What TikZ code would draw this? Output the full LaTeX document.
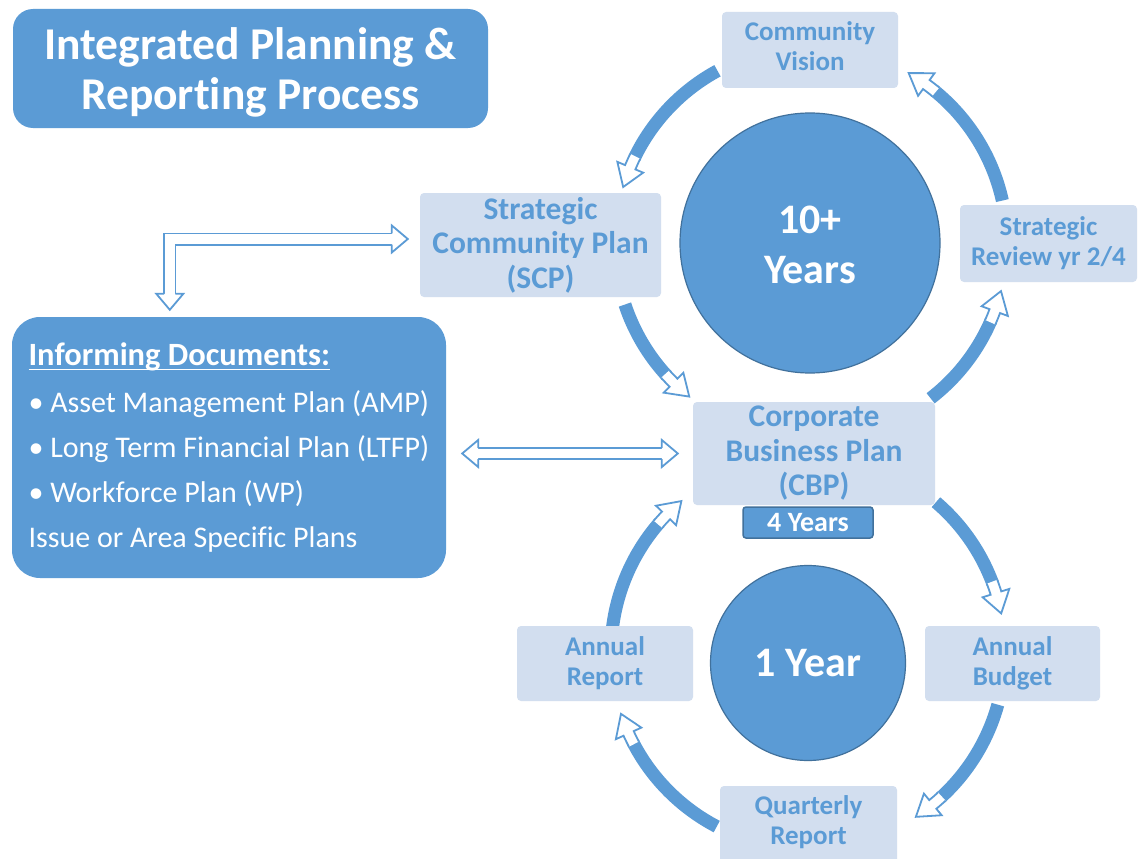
\documentclass[tikz,border=0pt]{standalone}
\usepackage{fontspec}
\setmainfont{Carlito}[Ligatures=NoCommon]
\usetikzlibrary{calc}
\definecolor{accent}{HTML}{5B9BD5}
\definecolor{accentdark}{HTML}{41719C}
\definecolor{paleblue}{HTML}{D2DEEF}

% underline sitting close to the baseline
\newcommand{\ulbase}[1]{\leavevmode\setbox0=\hbox{#1}\rlap{\rule[-5pt]{\wd0}{1.8pt}}\box0}

% thick curved arrow around a centre: #1 centre, #2 radius, #3 start angle, #4 tip angle
\newcommand{\loopcurve}[4]{%
  \begin{scope}[shift={(#1)}]
    \pgfmathsetmacro{\cycsign}{(#4>#3) ? 1 : -1}
    \pgfmathsetmacro{\cychead}{#4-\cycsign*21/#2*180/pi}
    \pgfmathsetmacro{\cycwhite}{\cychead-\cycsign*12/#2*180/pi}
    \pgfmathsetmacro{\cycshaftend}{\cycwhite+\cycsign*0.6}
    \pgfmathsetmacro{\cycin}{#2-5.6}
    \pgfmathsetmacro{\cycout}{#2+5.6}
    \pgfmathsetmacro{\cyclo}{#2-14}
    \pgfmathsetmacro{\cychi}{#2+14}
    \draw[cycshaft] (#3:#2) arc[start angle=#3, end angle=\cycshaftend, radius=#2];
    \filldraw[cychead] (\cycwhite:\cycin) arc[start angle=\cycwhite, end angle=\cychead, radius=\cycin]
      -- (\cychead:\cyclo) -- (#4:#2) -- (\cychead:\cychi) -- (\cychead:\cycout)
      arc[start angle=\cychead, end angle=\cycwhite, radius=\cycout];
  \end{scope}}

% hollow arrow head: #1 tip point, #2 direction
\newcommand{\hollowtip}[2]{%
  \filldraw[cychead, shift={(#1)}, rotate=#2] (-16,5.6) -- (-16,13.5) -- (0,0) -- (-16,-13.5) -- (-16,-5.6);}

\begin{document}
\begin{tikzpicture}[x=1pt, y=1pt,
  cycshaft/.style={draw=accent, line width=13pt},
  cychead/.style={fill=white, draw=accent, line width=1.8pt, line join=miter},
  hollowshaft/.style={draw=accent, line width=1.8pt, double=white, double distance=9.4pt, line join=miter},
  lbox/.style={fill=paleblue, rounded corners=4pt, text=accent, align=center, inner sep=0pt,
    font=\bfseries\fontsize{27}{30}\selectfont},
  bigtext/.style={font=\bfseries\fontsize{31.5}{34.5}\selectfont},
  disc/.style={circle, fill=accent, draw=accentdark, line width=1.2pt, text=white, align=center,
    inner sep=0pt, font=\bfseries\fontsize{42}{50}\selectfont}]

\fill[white] (0,0) rectangle (1144,-859);
\useasboundingbox (0,0) rectangle (1144,-859);

% centres of the two cycles
\node[disc, minimum size=260pt] (ten) at (810,-243) {\rule{0pt}{32pt}10+\\Years};
\node[disc, minimum size=195pt] (one) at (808,-663) {1 Year};
\coordinate (tenloop) at ($(ten.center)+(1,0)$);
\coordinate (oneloop) at ($(one.center)+(0,11)$);

% long-term cycle
\loopcurve{tenloop}{196}{118.5}{163.4}
\loopcurve{tenloop}{196}{198.3}{231.6}
\loopcurve{tenloop}{196}{307.6}{345.8}
\loopcurve{tenloop}{196}{12.5}{60.1}

% annual cycle
\loopcurve{oneloop}{197}{49.5}{11.3}
\loopcurve{oneloop}{197}{-15.5}{-56.8}
\loopcurve{oneloop}{197}{-117.6}{-161.7}
\loopcurve{oneloop}{197}{173}{130}

% title
\node[fill=accent, rounded corners=20pt, minimum width=475pt, minimum height=119pt, inner sep=0pt,
  text=white, align=center, font=\bfseries\fontsize{45.5}{50}\selectfont]
  (title) at (250.5,-68.5) {\rule{0pt}{40pt}Integrated Planning \&\\Reporting Process};

% stage boxes
\node[lbox, minimum width=176pt, minimum height=76pt] (cv) at (810,-50) {Community\\Vision\rule[-8pt]{0pt}{8pt}};
\node[lbox, bigtext, minimum width=241pt, minimum height=104pt] (scp) at (540.5,-245) {Strategic\\Community Plan\\(SCP)};
\node[lbox, minimum width=177pt, minimum height=77pt] (sr) at (1048.5,-243.5) {Strategic\\Review yr 2/4};
\node[lbox, bigtext, minimum width=242pt, minimum height=103pt] (cbp) at (814,-453.5) {Corporate\\Business Plan\\(CBP)};
\node[fill=accent, draw=accentdark, line width=1.5pt, rounded corners=3pt, minimum width=130pt,
  minimum height=31pt, inner sep=0pt, text=white, font=\bfseries\fontsize{28}{30}\selectfont]
  (four) at (808,-522.5) {4 Years};
\node[lbox, minimum width=176pt, minimum height=75pt] (ar) at (605,-663.5) {Annual\\Report};
\node[lbox, minimum width=175pt, minimum height=75pt] (ab) at (1012.5,-663.5) {Annual\\Budget};
\node[lbox, minimum width=177pt, minimum height=80pt] (qr) at (808.5,-826) {Quarterly\\Report\rule[-11pt]{0pt}{11pt}};

% informing documents
\node[fill=accent, rounded corners=28pt, minimum width=434pt, minimum height=261pt,
  inner sep=0pt, align=left, text=white, font=\fontsize{30}{45}\selectfont]
  (info) at (229,-447.5) {{\fontsize{32.5}{45}\selectfont\bfseries\ulbase{Informing Documents:}}\\[2pt]
  •\ Asset Management Plan (AMP)\\
  •\ Long Term Financial Plan (LTFP)\\
  •\ Workforce Plan (WP)\\
  Issue or Area Specific Plans};

% two-way link between informing documents and the business plan
\path (cbp.west) ++(-15,0) coordinate (dr);
\path (info.east |- dr) ++(16,0) coordinate (dl);
\draw[hollowshaft] ($(dl)+(15.5,0)$) -- ($(dr)+(-15.5,0)$);
\hollowtip{dl}{180}
\hollowtip{dr}{0}

% elbow link between informing documents and the community plan
\path (info.north west) ++(158,7) coordinate (ld);
\path (scp.west) ++(-12,6) coordinate (lr);
\draw[hollowshaft] ($(ld)+(0,15.5)$) |- ($(lr)+(-15.5,0)$);
\hollowtip{ld}{-90}
\hollowtip{lr}{0}

\end{tikzpicture}
\end{document}
